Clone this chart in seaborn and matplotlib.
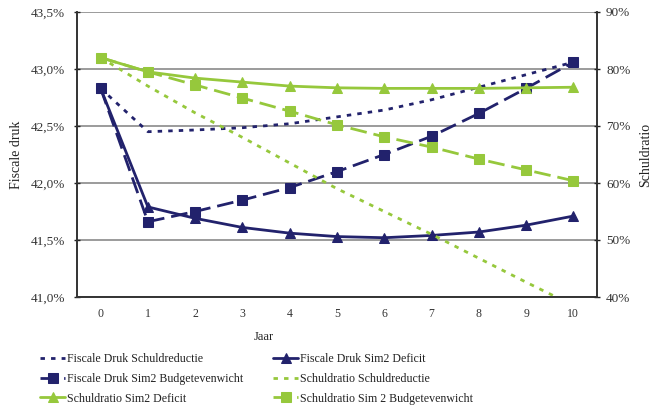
import matplotlib
matplotlib.use("Agg")
import matplotlib.pyplot as plt
import matplotlib.ticker as mticker
import seaborn as sns

# data
years = list(range(11))
year_labels = [str(y) for y in years]

# left axis: Fiscale druk (%)
fd_schuldreductie = [42.83, 42.45, 42.465, 42.485, 42.52, 42.58, 42.64, 42.73, 42.84, 42.95, 43.06]
fd_sim2_deficit = [42.83, 41.79, 41.69, 41.61, 41.56, 41.53, 41.52, 41.54, 41.57, 41.63, 41.71]
fd_sim2_budget = [42.83, 41.66, 41.75, 41.85, 41.96, 42.10, 42.25, 42.41, 42.61, 42.83, 43.06]

# right axis: Schuldratio (%)
sr_schuldreductie = [82.0, 77.0, 72.3, 68.0, 63.5, 59.0, 55.0, 51.0, 46.8, 42.6, 38.5]
sr_sim2_deficit = [82.0, 79.5, 78.4, 77.7, 77.0, 76.7, 76.6, 76.6, 76.6, 76.7, 76.8]
sr_sim2_budget = [82.0, 79.5, 77.2, 74.9, 72.6, 70.2, 68.1, 66.3, 64.2, 62.3, 60.4]

navy = "#22226c"
green = "#96c83c"

sns.set_theme(style="white")
plt.rcParams["font.family"] = ["Liberation Serif", "DejaVu Serif"]
plt.rcParams["font.size"] = 9

fig = plt.figure(figsize=(6.62, 4.08), dpi=100)
ax = fig.add_axes([77 / 662, 1 - 297 / 408, 520 / 662, 285 / 408])
ax2 = ax.twinx()

short_dash = (0, (1.6, 2.2))
long_dash = (0, (6, 2.5))

# left axis series
sns.lineplot(x=years, y=fd_schuldreductie, ax=ax, color=navy, linestyle=short_dash,
             linewidth=2, legend=False, label="Fiscale Druk Schuldreductie")
sns.lineplot(x=years, y=fd_sim2_deficit, ax=ax, color=navy, linestyle="-", linewidth=2,
             marker="^", markersize=7, markeredgecolor=navy, legend=False,
             label="Fiscale Druk Sim2 Deficit")
sns.lineplot(x=years, y=fd_sim2_budget, ax=ax, color=navy, linestyle=long_dash, linewidth=2,
             marker="s", markersize=7, markeredgecolor=navy, legend=False,
             label="Fiscale Druk Sim2 Budgetevenwicht")

# right axis series
sns.lineplot(x=years, y=sr_schuldreductie, ax=ax2, color=green, linestyle=short_dash,
             linewidth=2, legend=False, label="Schuldratio Schuldreductie")
sns.lineplot(x=years, y=sr_sim2_deficit, ax=ax2, color=green, linestyle="-", linewidth=2,
             marker="^", markersize=7, markeredgecolor=green, legend=False,
             label="Schuldratio Sim2 Deficit")
sns.lineplot(x=years, y=sr_sim2_budget, ax=ax2, color=green, linestyle=long_dash, linewidth=2,
             marker="s", markersize=7, markeredgecolor=green, legend=False,
             label="Schuldratio Sim 2 Budgetevenwicht")

# axes ranges and ticks
ax.set_xlim(-0.5, 10.5)
ax.set_ylim(41.0, 43.5)
ax2.set_ylim(40, 90)
ax.yaxis.set_major_locator(mticker.MultipleLocator(0.5))
ax2.yaxis.set_major_locator(mticker.MultipleLocator(10))
ax.yaxis.set_major_formatter(mticker.FuncFormatter(lambda v, p: f"{v:.1f}%".replace(".", ",")))
ax2.yaxis.set_major_formatter(mticker.FuncFormatter(lambda v, p: f"{v:.0f}%"))

ax.set_xticks(years)
ax.set_xticklabels(year_labels)
ax.set_xticks([y - 0.5 for y in years] + [10.5], minor=True)
ax.tick_params(axis="x", which="major", length=0, pad=8, labelsize=8.5, colors="#333333")
ax.tick_params(axis="x", which="minor", direction="in", length=4, width=1, color="#222222")
ax.tick_params(axis="y", direction="inout", length=5, width=1, color="#222222",
               pad=6, labelsize=9.5, labelcolor="#333333")
ax2.tick_params(axis="y", direction="inout", length=5, width=1, color="#222222",
                pad=4, labelsize=9.5, labelcolor="#333333")

ax.grid(axis="y", color="#808080", linewidth=1.1)
ax.grid(axis="x", visible=False)
ax2.grid(False)

for a in (ax, ax2):
    a.spines["top"].set_visible(False)
    for s in ("left", "right", "bottom"):
        a.spines[s].set_color("#333333")
        a.spines[s].set_linewidth(1.2)

ax.set_ylabel("Fiscale druk", fontsize=10, color="#222222")
ax.yaxis.set_label_coords(-0.104, 0.5)
ax2.set_ylabel("Schuldratio", fontsize=10, color="#222222", rotation=90)
ax2.yaxis.set_label_coords(1.081, 0.5)
ax.set_xlabel("Jaar", fontsize=9, color="#222222")
ax.xaxis.set_label_coords(0.359, -0.12)

# legend in two columns below the chart
h1 = ax.get_lines()
h2 = ax2.get_lines()
col1 = [h1[0], h1[2], h2[1]]
col2 = [h1[1], h2[0], h2[2]]
for handles, x0 in ((col1, 40), (col2, 273)):
    fig.legend(handles=handles, labels=[h.get_label() for h in handles],
               loc="upper left", bbox_to_anchor=(x0 / 662, 1 - 353 / 408),
               frameon=False, borderpad=0, borderaxespad=0, handlelength=2.1,
               handletextpad=0.2, labelspacing=0.65, fontsize=8.6,
               labelcolor="#222222")

fig.savefig("out.png", dpi=100)
